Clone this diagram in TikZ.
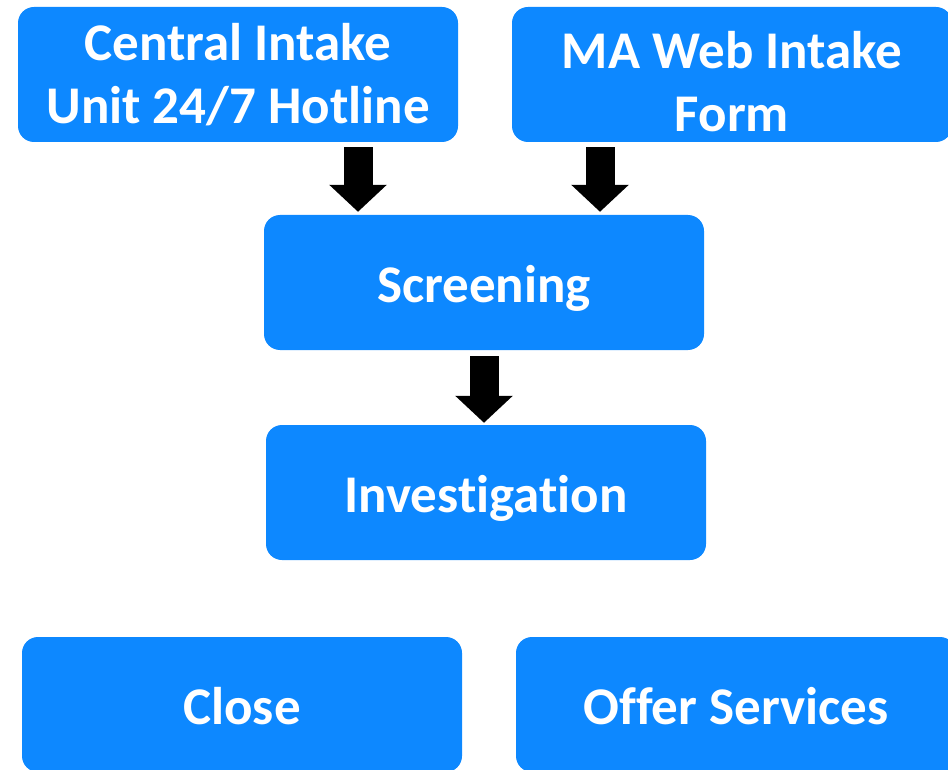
\documentclass[tikz,border=0pt]{standalone}
\usepackage{fontspec}
\setmainfont{Carlito}[Ligatures={NoCommon,NoRequired,NoContextual},Contextuals=NoAlternate]
\usetikzlibrary{arrows.meta}
\definecolor{boxblue}{RGB}{13,136,255}
\newcommand{\nolig}{\kern0pt{}}
\tikzset{
  flowbox/.style={draw=none, fill=boxblue, rounded corners=16pt,
    minimum width=440pt, minimum height=135pt, inner sep=0pt,
    text=white, font=\bfseries\fontsize{53}{63}\selectfont, align=center},
  onebox/.style={flowbox, text height=39pt, text depth=0pt},
  boxtext/.style={text=white, font=\bfseries\fontsize{53}{63}\selectfont, align=center, inner sep=0pt},
  barrow/.style={draw=black, line width=29pt, line cap=butt,
    -{Triangle[width=56pt,length=27pt]}}
}
\begin{document}
\begin{tikzpicture}[x=1pt,y=-1pt]
\useasboundingbox (0,0) rectangle (948,770);
\clip (0,0) rectangle (948,770);
\node[flowbox] (hotline) at (238,74.5) {Central Intake\\Unit 24/7 Hotline};
\node[flowbox] (web) at (732,74.5) {};
\node[boxtext] (webtext) at ([yshift=-7pt]web.center) {MA Web Intake\\Form};
\node[onebox] (screen) at (484,282.5) {Screening};
\node[onebox] (invest) at (486,492.5) {Investigat\nolig ion};
\node[onebox] (close) at (242,704.5) {Close};
\node[onebox] (offer) at (736,704.5) {Of\nolig fer Services};
\coordinate (t1) at ([xshift=-126pt]screen.north);
\coordinate (t2) at ([xshift=116pt]screen.north);
\draw[barrow, shorten <=5pt, shorten >=3pt] (t1 |- hotline.south) -- (t1);
\draw[barrow, shorten <=5pt, shorten >=3pt] (t2 |- web.south) -- (t2);
\draw[barrow, shorten <=6pt, shorten >=2pt] (screen.south) -- (screen.south |- invest.north);
\end{tikzpicture}
\end{document}
